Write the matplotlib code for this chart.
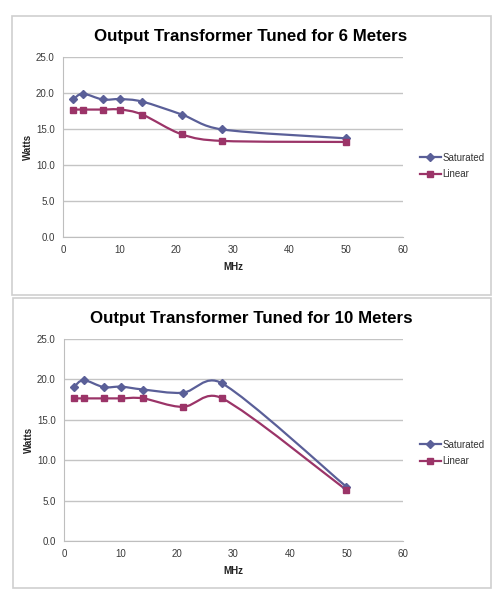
import numpy as np
import matplotlib.pyplot as plt
from matplotlib.path import Path
from matplotlib.patches import PathPatch, Rectangle

plt.rcParams['font.family'] = ['Liberation Sans', 'DejaVu Sans']

mhz = [1.8, 3.5, 7, 10.1, 14, 21, 28, 50]

sat_6m = [19.1, 19.9, 19.1, 19.15, 18.8, 17.0, 14.95, 13.7]
lin_6m = [17.7, 17.7, 17.7, 17.7, 17.0, 14.25, 13.35, 13.2]

sat_10m = [19.1, 19.9, 19.05, 19.1, 18.75, 18.35, 19.5, 6.7]
lin_10m = [17.65, 17.65, 17.65, 17.65, 17.65, 16.6, 17.65, 6.3]

titles = ['Output Transformer Tuned for 6 Meters',
          'Output Transformer Tuned for 10 Meters']
series_names = ['Saturated', 'Linear']
sat_color = '#5A5F98'
lin_color = '#9B3468'


def smooth_path(ax, x, y):
    # Excel-like smoothed line: bezier segments with Catmull-Rom control points,
    # control arm capped at half the segment length (measured in pixels)
    pos = ax.get_position()
    w, h = fig.get_size_inches() * fig.dpi
    xl, yl = ax.get_xlim(), ax.get_ylim()
    sx = pos.width * w / (xl[1] - xl[0])
    sy = pos.height * h / (yl[1] - yl[0])
    p = np.column_stack([np.asarray(x, float) * sx, np.asarray(y, float) * sy])
    n = len(p)
    verts = [p[0]]
    codes = [Path.MOVETO]
    for i in range(n - 1):
        p0 = p[i - 1] if i > 0 else p[i]
        p1, p2 = p[i], p[i + 1]
        p3 = p[i + 2] if i + 2 < n else p[i + 1]
        half = np.hypot(*(p2 - p1)) / 2
        a = (p2 - p0) / 6
        b = (p3 - p1) / 6
        la, lb = np.hypot(*a), np.hypot(*b)
        if la > half:
            a = a * half / la
        if lb > half:
            b = b * half / lb
        verts += [p1 + a, p2 - b, p2]
        codes += [Path.CURVE4] * 3
    verts = np.array(verts) / [sx, sy]
    return Path(verts, codes)


def draw_panel(ax, sat, lin, title, title_y, leg_y):
    ax.set_xlim(0, 60)
    ax.set_ylim(0, 25)
    for vals, col, mk, ms in [(sat, sat_color, 'D', 4), (lin, lin_color, 's', 4.5)]:
        ax.add_patch(PathPatch(smooth_path(ax, mhz, vals), facecolor='none',
                               edgecolor=col, lw=1.6, zorder=3))
        ax.plot(mhz, vals, ls='none', marker=mk, ms=ms, color=col, zorder=4)
    ax.set_xticks(np.arange(0, 61, 10))
    ax.set_yticks(np.arange(0, 26, 5))
    ax.set_yticklabels(['%.1f' % v for v in np.arange(0, 26, 5)])
    ax.grid(axis='y', color='#C4C4C4', lw=1)
    ax.set_axisbelow(True)
    for s in ['top', 'right']:
        ax.spines[s].set_visible(False)
    for s in ['left', 'bottom']:
        ax.spines[s].set_color('#BEBEBE')
    ax.tick_params(labelcolor='#3A3A3A', labelsize=7, length=0, pad=6)
    ax.set_xlabel('MHz', fontsize=7, fontweight='bold', labelpad=5,
                  color='#222222')
    ax.set_ylabel('Watts', fontsize=7, fontweight='bold', labelpad=2,
                  color='#222222')
    fig.text(0.5, title_y, title, ha='center', va='center',
             fontsize=12.2, fontweight='bold')
    # legend entries
    h1, = ax.plot([], [], color=sat_color, lw=1.6, marker='D', ms=4)
    h2, = ax.plot([], [], color=lin_color, lw=1.6, marker='s', ms=4.5)
    fig.legend([h1, h2], series_names, loc='center left',
               bbox_to_anchor=(0.826, leg_y), frameon=False, fontsize=7,
               handlelength=2.2, handletextpad=0.15, labelspacing=0.7,
               borderpad=0, labelcolor='#333333')


fig = plt.figure(figsize=(5.02, 6), dpi=100)
fig.patch.set_facecolor('white')

# chart frames
fig.add_artist(Rectangle((12 / 502, 1 - 295 / 600), 479 / 502, 279 / 600,
                         transform=fig.transFigure, fill=False,
                         edgecolor='#CFCFCF', lw=1.2))
fig.add_artist(Rectangle((13 / 502, 1 - 588 / 600), 478 / 502, 290 / 600,
                         transform=fig.transFigure, fill=False,
                         edgecolor='#CFCFCF', lw=1.2))

ax1 = fig.add_axes([63 / 502, 1 - 237 / 600, 340 / 502, 180 / 600])
draw_panel(ax1, sat_6m, lin_6m, titles[0], 1 - 36 / 600, 1 - 166 / 600)

ax2 = fig.add_axes([64 / 502, 1 - 541 / 600, 339 / 502, 202 / 600])
draw_panel(ax2, sat_10m, lin_10m, titles[1], 1 - 318 / 600, 1 - 453 / 600)

fig.savefig('out.png', dpi=100)
